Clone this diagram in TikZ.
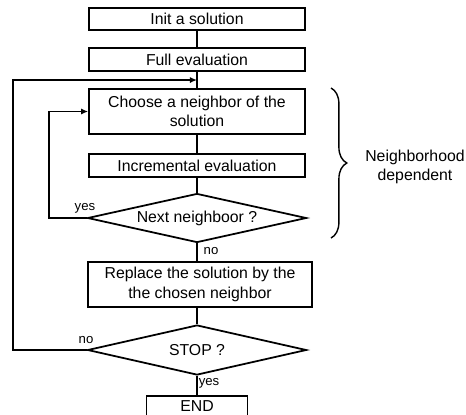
\documentclass[tikz,border=0pt]{standalone}
\usepackage{fontspec}
\setmainfont{Liberation Sans}
\usetikzlibrary{shapes.geometric,arrows.meta,decorations.pathreplacing}

\begin{document}
\begin{tikzpicture}[x=0.02cm,y=-0.02cm,
    procbox/.style={draw,line width=1pt,minimum width=4.32cm,inner sep=1pt,align=center,font=\fontsize{9}{11}\selectfont},
    testdiam/.style={draw,diamond,line width=1pt,aspect=4.47,inner sep=0pt,minimum width=4.38cm,minimum height=0.98cm,font=\fontsize{9}{11}\selectfont},
    lbl/.style={inner sep=0pt,font=\fontsize{7.5}{9}\selectfont},
    link/.style={line width=0.6pt},
    loop/.style={line width=1pt,-{Latex[length=4pt,width=3.5pt]}}]
    \useasboundingbox (0,0) rectangle (466,414);
    \node[procbox,minimum height=0.44cm] (init) at (197,19) {Init a solution};
    \node[procbox,minimum height=0.46cm] (full) at (197,59.5) {Full evaluation};
    \coordinate (join) at (197,80);
    \node[procbox,minimum height=0.9cm] (choose) at (197,111.5) {Choose a neighbor of the\\solution};
    \node[procbox,minimum height=0.46cm] (incr) at (197,165.5) {Incremental evaluation};
    \node[testdiam] (next) at (197,218) {Next neighboor ?};
    \node[procbox,minimum width=4.48cm,minimum height=0.9cm] (replace) at (200,284.5) {Replace the solution by the\\the chosen neighbor};
    \node[testdiam,minimum height=1cm] (stop) at (197,350) {STOP ?};
    \node[procbox,minimum width=2.02cm,minimum height=0.4cm] (end) at (197,406) {END};
    \node[lbl] (yes1) at (85,208) {yes};
    \node[lbl] (no1) at (211,251) {no};
    \node[lbl] (no2) at (86,340) {no};
    \node[lbl] (yes2) at (209,383) {yes};
    \draw[link] (init) -- (full);
    \draw[link] (full) -- (choose);
    \draw[link] (choose) -- (incr);
    \draw[link] (incr) -- (next);
    \draw[link] (next.south) -- (next.south |- replace.north);
    \draw[link] (next.south |- replace.south) -- (stop.north);
    \draw[link] (stop.south) -- (end.north);
    \draw[loop] (next.west) -- ++(-38,0) |- (choose.west);
    \draw[loop] (stop.west) -- ++(-74,0) |- (join);
    % brace round the neighborhood part
    \coordinate (bracetop) at (331,88);
    \coordinate (bracebot) at (331,238);
    \draw[line width=0.8pt,decorate,decoration={brace,amplitude=9pt}] (bracetop) -- (bracebot);
    \node[align=center,font=\fontsize{9}{11}\selectfont] (nbh) at (415,167) {Neighborhood\\dependent};
\end{tikzpicture}
\end{document}
